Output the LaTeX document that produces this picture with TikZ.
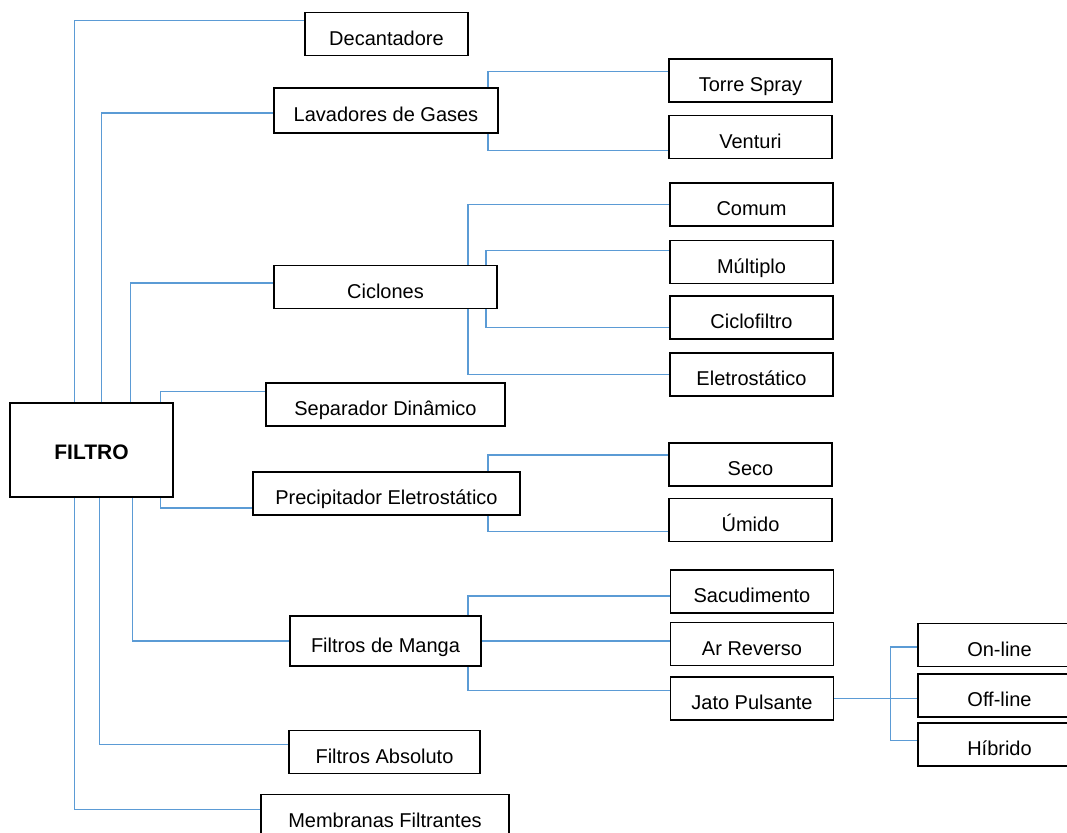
\documentclass[tikz,border=0pt]{standalone}
\usepackage{fontspec}
\setmainfont{Liberation Sans}
\usepackage{tikz}
\usetikzlibrary{positioning}
\definecolor{linkblue}{RGB}{91,155,213}

\begin{document}
\begin{tikzpicture}[x=0.5pt,y=-0.5pt]
  \tikzset{box/.style={draw,line width=0.8pt,inner sep=0pt,minimum width=81.5pt,minimum height=21.5pt,text height=11pt,text depth=0pt,font=\fontsize{10}{12}\selectfont},
    link/.style={draw=linkblue,line width=0.7pt}}
  \useasboundingbox (0,0) rectangle (1067,832);
  \node[box,minimum height=47pt,text height=9pt,font=\fontsize{10.5}{12}\selectfont\bfseries] (filtro) at (91.5,450) {FILTRO};
  \node[box] (decant) at (386.5,34) {Decantadore};
  \node[box,minimum width=112pt,minimum height=22.5pt] (lavad) at (386,110.5) {Lavadores de Gases};
  \node[box,minimum width=111.5pt] (ciclones) at (385.5,287) {Ciclones};
  \node[box,minimum width=119.5pt] (separ) at (385.5,404.5) {Separador Dinâmico};
  \node[box,minimum width=133.5pt] (precip) at (386.5,493.5) {Precipitador Eletrostático};
  \node[box,minimum width=95.5pt,minimum height=25pt] (manga) at (385.5,641) {Filtros de Manga};
  \node[box,minimum width=95.5pt] (absol) at (384.5,752) {Filtros Absoluto};
  \node[box,minimum width=124pt] (membr) at (385,816) {Membranas Filtrantes};

  \node[box] (torre) at (750.5,80.5) {Torre Spray};
  \node[box,below=6pt of torre] (venturi) {Venturi};
  \node[box] (comum) at (751.5,204.5) {Comum};
  \node[box,below=6.5pt of comum] (multiplo) {Múltiplo};
  \node[box,below=5.5pt of multiplo] (ciclofiltro) {Ciclofiltro};
  \node[box,below=6pt of ciclofiltro] (eletro) {Eletrostático};
  \node[box] (seco) at (750.5,464.5) {Seco};
  \node[box,below=5.5pt of seco] (umido) {Úmido};
  \node[box] (sacud) at (752,591.5) {Sacudimento};
  \node[box,below=4pt of sacud] (arrev) {Ar Reverso};
  \node[box,below=5pt of arrev] (jato) {Jato Pulsante};
  \node[box] (online) at (999.5,645) {On-line};
  \node[box,below=3pt of online] (offline) {Off-line};
  \node[box,below=2pt of offline] (hibrido) {Híbrido};

  \draw[link] ([xshift=32.5pt]filtro.north west) |- ([yshift=-4.5pt]decant.north west);
  \draw[link] ([xshift=46pt]filtro.north west) |- ([yshift=-1.25pt]lavad.west);
  \draw[link] ([xshift=60.5pt]filtro.north west) |- ([yshift=2pt]ciclones.west);
  \draw[link] ([xshift=75.5pt]filtro.north west) |- ([yshift=-4.5pt]separ.north west);
  \draw[link] ([xshift=75.5pt]filtro.south west) |- ([yshift=4pt]precip.south west);
  \draw[link] ([xshift=61.5pt]filtro.south west) |- (manga.west);
  \draw[link] ([xshift=45pt]filtro.south west) |- ([yshift=-7.5pt]absol.north west);
  \draw[link] ([xshift=32.5pt]filtro.south west) |- ([yshift=-8pt]membr.north west);

  \draw[link] ([xshift=-5.5pt]lavad.north east) |- ([yshift=-6.5pt]torre.north west);
  \draw[link] ([xshift=-5.5pt]lavad.south east) |- ([yshift=4.5pt]venturi.south west);
  \draw[link] ([xshift=-15pt]ciclones.north east) |- (comum.west);
  \draw[link] ([xshift=-6pt]ciclones.north east) |- ([yshift=5.75pt]multiplo.west);
  \draw[link] ([xshift=-6pt]ciclones.south east) |- ([yshift=-4.75pt]ciclofiltro.west);
  \draw[link] ([xshift=-15pt]ciclones.south east) |- (eletro.west);
  \draw[link] ([xshift=-16.5pt]precip.north east) |- ([yshift=4.75pt]seco.west);
  \draw[link] ([xshift=-16.5pt]precip.south east) |- ([yshift=-5.75pt]umido.west);
  \draw[link] ([xshift=-7pt]manga.north east) |- ([yshift=-2.25pt]sacud.west);
  \draw[link] (manga.east) -- (manga.east -| arrev.west);
  \draw[link] ([xshift=-7pt]manga.south east) |- ([yshift=4.25pt]jato.west);
  \draw[link] (jato.east) -- (jato.east -| offline.west);
  \draw[link] ([yshift=-1pt]online.west) -- ++(-13.5pt,0) |- ([yshift=2pt]hibrido.west);
\end{tikzpicture}
\end{document}
